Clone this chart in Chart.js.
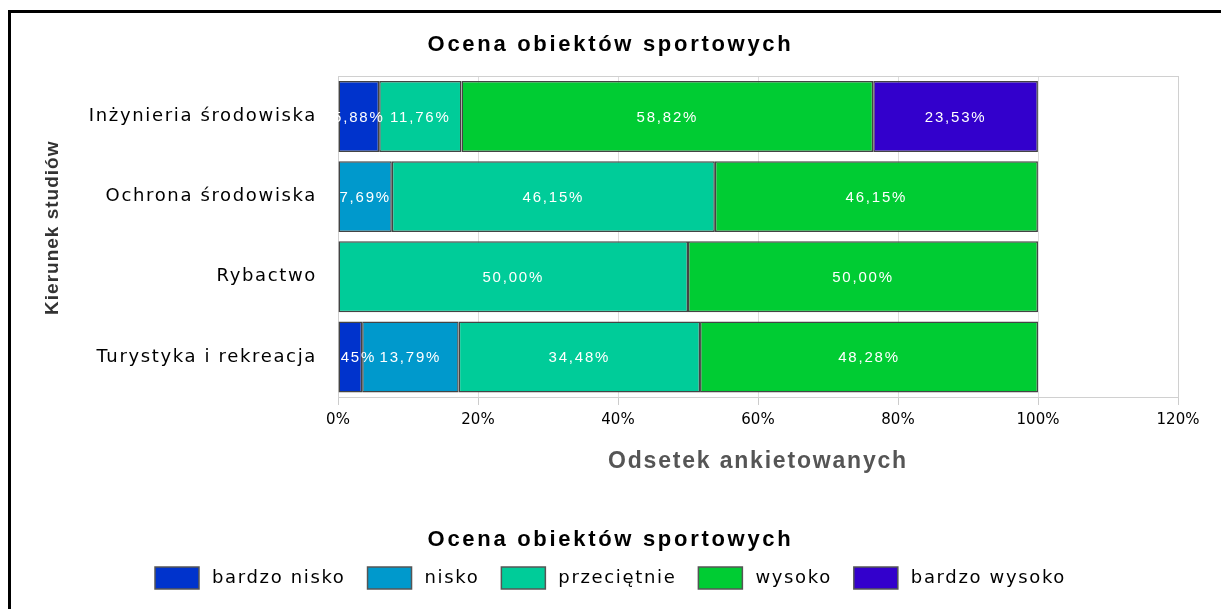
<!DOCTYPE html>
<html>
<head>
<meta charset="utf-8">
<script src="https://cdn.jsdelivr.net/npm/chart.js@4.4.0/dist/chart.umd.min.js"></script>
<style>
  html, body { margin: 0; padding: 0; background: #fff; }
  #wrap { position: relative; width: 1221px; height: 609px; overflow: hidden; }
  #frame { position: absolute; left: 8px; top: 10px; width: 1300px; height: 700px;
           border-left: 3px solid #000; border-top: 3px solid #000; pointer-events: none; }
  canvas { position: absolute; left: 0; top: 0; }
</style>
</head>
<body>
<div id="wrap">
  <canvas id="c" width="1221" height="609"></canvas>
  <div id="frame"></div>
</div>
<script>
const categories = ['Inżynieria środowiska', 'Ochrona środowiska', 'Rybactwo', 'Turystyka i rekreacja'];
const seriesNames = ['bardzo nisko', 'nisko', 'przeciętnie', 'wysoko', 'bardzo wysoko'];
const bardzoNisko = [5.88, 0, 0, 3.45];
const nisko = [0, 7.69, 0, 13.79];
const przecietnie = [11.76, 46.15, 50.00, 34.48];
const wysoko = [58.82, 46.15, 50.00, 48.28];
const bardzoWysoko = [23.53, 0, 0, 0];
const seriesColors = ['#0033CC', '#0099CC', '#00CC99', '#00CC33', '#3300CC'];
const xTickValues = [0, 20, 40, 60, 80, 100, 120];
const chartTitle = 'Ocena obiektów sportowych';
const xTitle = 'Odsetek ankietowanych';
const yTitle = 'Kierunek studiów';

const seriesValues = [bardzoNisko, nisko, przecietnie, wysoko, bardzoWysoko];

// font stacks (each stack gets its own letter spacing below)
const BODY = '"DejaVu Sans", sans-serif';
const LEGF = '"DejaVu Sans", "Noto Sans", sans-serif';
const TICKF = '"DejaVu Sans", Verdana, sans-serif';
const BOLDF = '"Liberation Sans", Arial, sans-serif';
const LABELF = '"Liberation Sans", Helvetica, sans-serif';

function textStyle(font) {
  // returns [letterSpacing, extra leading offset px, x shift]
  if (/Helvetica/.test(font)) return ['1.8px', 0, 0];
  if (/bold|700/.test(font)) {
    if (/\b22px/.test(font)) return ['2.7px', 0, 0];
    if (/\b23px/.test(font)) return ['1.8px', 0, 0];
    if (/\b19px/.test(font)) return ['1px', 0, 9];
    return ['0px', 0, 0];
  }
  if (/Noto/.test(font)) return ['1.65px', 4, 4];
  if (/Verdana/.test(font)) return ['0px', 0, 0];
  if (/DejaVu/.test(font)) return ['1.65px', 0, 0];
  return ['0px', 0, 0];
}
(function patchCanvas() {
  const P = CanvasRenderingContext2D.prototype;
  if (!('letterSpacing' in P)) return;
  const oF = P.fillText, oM = P.measureText;
  P.fillText = function (t, x, y, m) {
    const prev = this.letterSpacing;
    const st = textStyle(this.font);
    this.letterSpacing = st[0];
    const xx = x + st[2];
    if (m === undefined) oF.call(this, t, xx, y); else oF.call(this, t, xx, y, m);
    this.letterSpacing = prev;
  };
  P.measureText = function (t) {
    const prev = this.letterSpacing;
    const st = textStyle(this.font);
    this.letterSpacing = st[0];
    const r = oM.call(this, t);
    this.letterSpacing = prev;
    if (!st[1]) return r;
    return {
      width: r.width + st[1],
      actualBoundingBoxAscent: r.actualBoundingBoxAscent,
      actualBoundingBoxDescent: r.actualBoundingBoxDescent,
      actualBoundingBoxLeft: r.actualBoundingBoxLeft,
      actualBoundingBoxRight: r.actualBoundingBoxRight
    };
  };
})();

const datasets = seriesNames.map((name, i) => ({
  label: name,
  data: seriesValues[i],
  backgroundColor: seriesColors[i],
  borderColor: '#444444',
  borderWidth: ctx => (ctx.type === 'data' && !ctx.raw) ? 0 : 1.5,
  borderSkipped: false,
  barPercentage: 0.885,
  categoryPercentage: 1.0
}));

const fmt = v => v.toFixed(2).replace('.', ',') + '%';

const dataLabels = {
  id: 'dataLabels',
  afterDatasetsDraw(chart) {
    const ctx = chart.ctx;
    ctx.save();
    ctx.font = '15px ' + LABELF;
    ctx.fillStyle = '#ffffff';
    ctx.textAlign = 'center';
    ctx.textBaseline = 'middle';
    chart.data.datasets.forEach((ds, di) => {
      const meta = chart.getDatasetMeta(di);
      meta.data.forEach((bar, i) => {
        const v = ds.data[i];
        if (!v) return;
        const cx = (bar.x + bar.base) / 2;
        ctx.fillText(fmt(v), cx, bar.y + 1);
      });
    });
    ctx.restore();
  }
};

const plotBox = {
  id: 'plotBox',
  beforeDatasetsDraw(chart) {
    const a = chart.chartArea, ctx = chart.ctx;
    ctx.save();
    ctx.strokeStyle = '#d0d0d0';
    ctx.lineWidth = 1;
    ctx.strokeRect(Math.round(a.left) + 0.5, Math.round(a.top) + 0.5, Math.round(a.right - a.left), Math.round(a.bottom - a.top));
    ctx.restore();
  }
};

new Chart(document.getElementById('c'), {
  type: 'bar',
  data: { labels: categories, datasets },
  options: {
    indexAxis: 'y',
    responsive: false,
    animation: false,
    devicePixelRatio: 1,
    layout: { padding: { top: 20, right: 0, bottom: 10, left: 0 } },
    plugins: {
      title: {
        display: true, text: chartTitle, color: '#000',
        font: { family: BOLDF, size: 22, weight: 'bold', lineHeight: 1.2 },
        padding: { top: 12, bottom: 18 }
      },
      legend: {
        position: 'bottom',
        title: {
          display: true, text: chartTitle, color: '#000',
          font: { family: BOLDF, size: 22, weight: 'bold', lineHeight: 0.75 },
          padding: { top: 40, bottom: 0 }
        },
        labels: {
          boxWidth: 44, boxHeight: 22, color: '#000',
          font: { family: LEGF, size: 18 },
          padding: 22,
          generateLabels(chart) {
            const items = Chart.defaults.plugins.legend.labels.generateLabels(chart);
            items.forEach(it => { it.lineWidth = 1.5; it.strokeStyle = '#555555'; });
            return items;
          }
        }
      },
      tooltip: { enabled: false }
    },
    scales: {
      x: {
        stacked: true, min: 0, max: 120,
        afterBuildTicks: s => { s.ticks = xTickValues.map(v => ({ value: v })); },
        afterFit: s => { s.height = 91.5; },
        ticks: { callback: v => v + '%', color: '#000', font: { family: TICKF, size: 15 }, padding: 6, maxRotation: 0 },
        grid: { color: '#dddddd', tickColor: '#cccccc', tickLength: 8, drawOnChartArea: true },
        border: { display: false },
        title: { display: true, text: xTitle, color: '#555555', font: { family: BOLDF, size: 23, weight: 'bold' }, padding: { top: 0, bottom: 13 } }
      },
      y: {
        stacked: true,
        afterFit: s => { s.width = 338; },
        ticks: { color: '#000', font: { family: BODY, size: 18 }, padding: 13 },
        grid: { display: false },
        border: { display: false },
        title: { display: true, text: yTitle, color: '#333333', font: { family: BOLDF, size: 19, weight: 'bold' }, padding: { top: 41, bottom: 0 } }
      },
      yRight: {
        type: 'category', position: 'right', display: true,
        afterFit: s => { s.width = 43; },
        ticks: { display: false },
        grid: { display: false },
        border: { display: false }
      }
    }
  },
  plugins: [plotBox, dataLabels]
});
</script>
</body>
</html>
